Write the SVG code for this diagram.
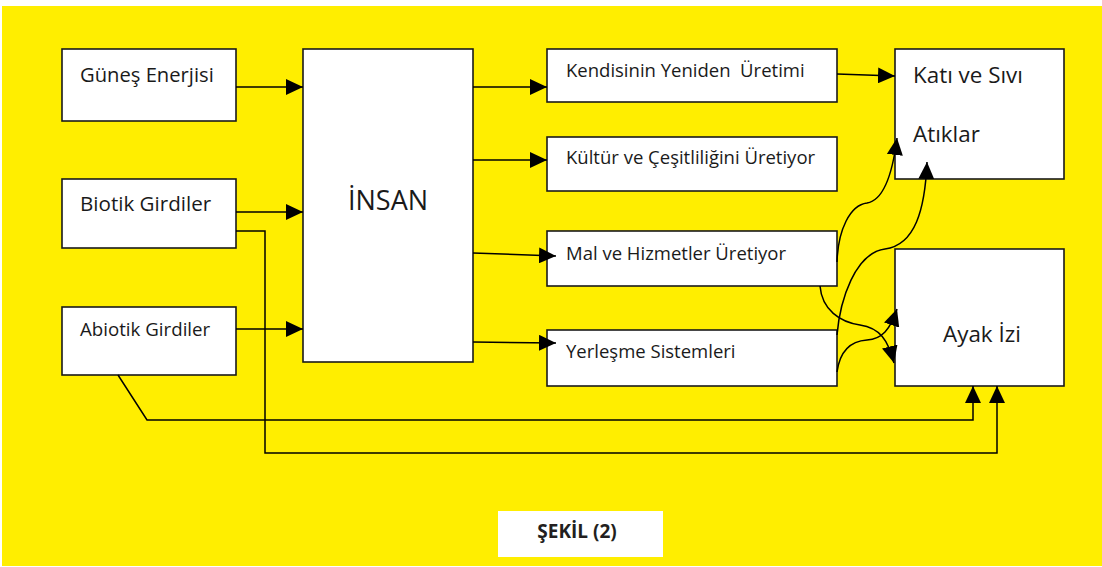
<svg xmlns="http://www.w3.org/2000/svg" width="1102" height="567" viewBox="0 0 1102 567">
<style>
.box{fill:#fff;stroke:#1a1a1a;stroke-width:1.6}
.t{font-family:"Open Sans","Liberation Sans",sans-serif;fill:#1a1a1a}
.r{font-size:18.5px}
.c{fill:none;stroke:#000;stroke-width:1.5}
</style>
<defs>
<marker id="ah" viewBox="0 0 17 16" refX="17" refY="8" markerWidth="17" markerHeight="16" markerUnits="userSpaceOnUse" orient="auto">
<path d="M0,0 L17,8 L0,16 z" fill="#000"/>
</marker>
</defs>
<rect x="0" y="0" width="1102" height="567" fill="#fff"/>
<rect x="2" y="6" width="1100" height="560" fill="#FFEE00"/>

<g id="gunes"><rect class="box" x="62" y="49" width="174" height="72"/><text class="t" x="80" y="82" font-size="20.2">Güneş Enerjisi</text></g>
<g id="biotik"><rect class="box" x="62" y="179" width="174" height="69"/><text class="t" x="80" y="211" font-size="20.6">Biotik Girdiler</text></g>
<g id="abiotik"><rect class="box" x="62" y="307" width="174" height="68"/><text class="t" x="80" y="336" font-size="18.7">Abiotik Girdiler</text></g>
<g id="insan"><rect class="box" x="303" y="49" width="170" height="313"/><text class="t" x="388" y="210" font-size="27" text-anchor="middle">İNSAN</text></g>
<g id="kendisinin"><rect class="box" x="547" y="49" width="290" height="53"/><text class="t r" x="566" y="77" xml:space="preserve">Kendisinin Yeniden  Üretimi</text></g>
<g id="kultur"><rect class="box" x="547" y="137" width="290" height="54"/><text class="t r" x="566" y="164">Kültür ve Çeşitliliğini Üretiyor</text></g>
<g id="mal"><rect class="box" x="547" y="231" width="290" height="55"/><text class="t r" x="566" y="260">Mal ve Hizmetler Üretiyor</text></g>
<g id="yerlesme"><rect class="box" x="547" y="330" width="290" height="56"/><text class="t r" x="566" y="358">Yerleşme Sistemleri</text></g>
<g id="atiklar"><rect class="box" x="895" y="49" width="169" height="130"/><text class="t" x="913" y="83" font-size="22.4">Katı ve Sıvı</text><text class="t" x="913" y="142" font-size="22.4">Atıklar</text></g>
<g id="ayakizi"><rect class="box" x="895" y="249" width="169" height="137"/><text class="t" x="943" y="342" font-size="22.4">Ayak İzi</text></g>

<g id="connectors">
<path class="c" d="M236,87 H303" marker-end="url(#ah)"/>
<path class="c" d="M236,212 H303" marker-end="url(#ah)"/>
<path class="c" d="M236,329 H303" marker-end="url(#ah)"/>
<path class="c" d="M473,87 H547" marker-end="url(#ah)"/>
<path class="c" d="M473,160 H547" marker-end="url(#ah)"/>
<path class="c" d="M473,253 L556,256" marker-end="url(#ah)"/>
<path class="c" d="M473,342 L556,343" marker-end="url(#ah)"/>
<path class="c" d="M837,74 L895,76" marker-end="url(#ah)"/>
<path class="c" d="M236,231 H265 V453 H997 V386" marker-end="url(#ah)"/>
<path class="c" d="M118,375 L147,420 H973 V386" marker-end="url(#ah)"/>
<path class="c" d="M837,262 C838,230 850,205 867,203 C885,200 893,170 897,138" marker-end="url(#ah)"/>
<path class="c" d="M837,335 C840,300 855,253 885,249 C915,245 925,210 927,162" marker-end="url(#ah)"/>
<path class="c" d="M837,372 C840,350 852,341 867,340 C882,339 890,330 897,309" marker-end="url(#ah)"/>
<path class="c" d="M820,286 C822,310 840,322 860,325 C880,328 888,340 894,363" marker-end="url(#ah)"/>
</g>

<g id="caption"><rect x="498" y="511" width="165" height="46" fill="#fff"/><text x="577" y="538" font-family="'Open Sans','Liberation Sans',sans-serif" font-weight="700" font-size="19" fill="#231f20" text-anchor="middle">ŞEKİL (2)</text></g>
</svg>
